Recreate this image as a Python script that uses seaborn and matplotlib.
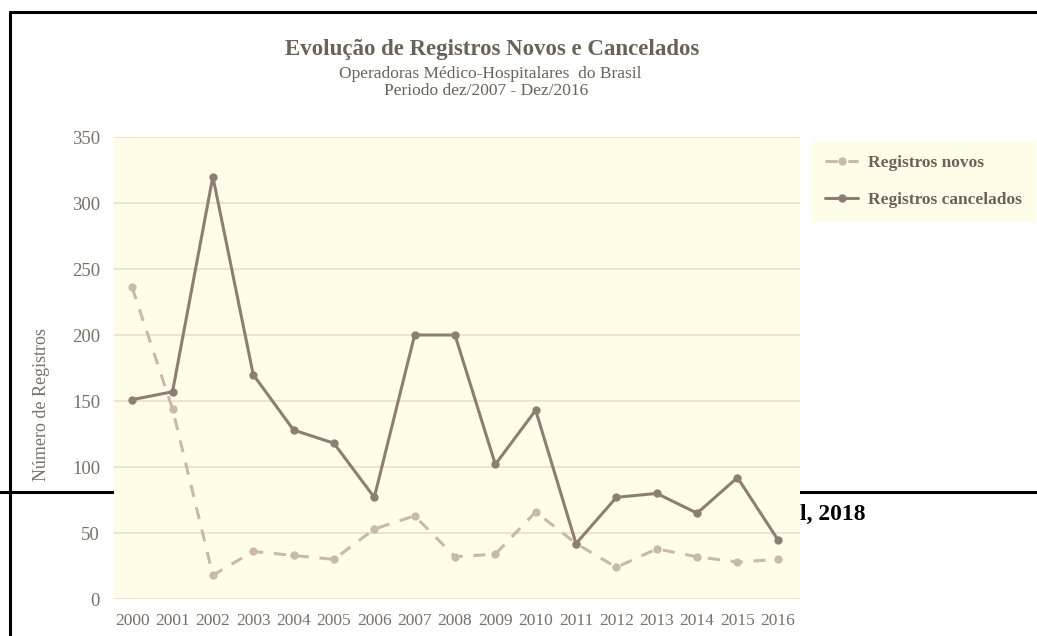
import numpy as np
import pandas as pd
import seaborn as sns
import matplotlib.pyplot as plt
from matplotlib.lines import Line2D

# dados
anos = list(range(2000, 2017))
novos = [236, 144, 18, 36, 33, 30, 53, 63, 32, 34, 66, 42, 24, 38, 32, 28, 30]
cancelados = [151, 157, 320, 170, 128, 118, 77, 200, 200, 102, 143, 42, 77, 80, 65, 92, 45]
yticks = [0, 50, 100, 150, 200, 250, 300, 350]

df = pd.DataFrame({'ano': anos, 'novos': novos, 'cancelados': cancelados})

sns.set_theme(style='white')
plt.rcParams['font.family'] = ['Liberation Serif', 'DejaVu Serif']

bg = '#FFFDE8'
grid_c = '#EADFCB'
c_novos = '#C9B9A8'
c_canc = '#8C7F72'
txt = '#6B6257'
tick_c = '#7A7067'

fig = plt.figure(figsize=(10.37, 6.36), dpi=100)
W, H = 1037, 636

# linhas da pagina (documento ao fundo)
fig.add_artist(Line2D([10 / W, 1], [1 - 12 / H, 1 - 12 / H], color='black', lw=2.2, zorder=0))
fig.add_artist(Line2D([10 / W, 10 / W], [0, 1 - 12 / H], color='black', lw=2.2, zorder=0))
fig.add_artist(Line2D([0, 1], [1 - 492 / H, 1 - 492 / H], color='black', lw=2.2, zorder=0))
fig.text(800 / W, 1 - 514 / H, 'l, 2018', fontsize=17, color='black', fontweight='bold',
         va='center', ha='left', zorder=1)

ax = fig.add_axes([114 / W, 1 - 599 / H, (800 - 114) / W, (599 - 137) / H])
ax.set_facecolor(bg)
ax.set_zorder(2)

sns.lineplot(data=df, x='ano', y='novos', ax=ax, color=c_novos, lw=2.2, marker='o', markersize=6,
             markeredgewidth=0, label='Registros novos', zorder=3)
ax.lines[-1].set_linestyle((0, (4, 3.5)))
sns.lineplot(data=df, x='ano', y='cancelados', ax=ax, color=c_canc, lw=2.2, marker='o', markersize=6,
             markeredgewidth=0, label='Registros cancelados', zorder=4)

ax.set_xlim(1999.55, 2016.55)
ax.set_ylim(0, 350)
ax.set_xticks(anos)
ax.set_xticklabels([str(a) for a in anos])
ax.set_yticks(yticks)
ax.tick_params(axis='both', length=0, colors=tick_c)
ax.tick_params(axis='x', pad=10, labelsize=12.5)
ax.tick_params(axis='y', pad=10, labelsize=13.5)
ax.grid(axis='y', color=grid_c, lw=1.2)
ax.set_axisbelow(True)
for s in ax.spines.values():
    s.set_visible(False)

ax.set_xlabel('')
ax.set_ylabel('Número de Registros', fontsize=13, color=tick_c)
ax.yaxis.set_label_coords(-0.093, 0.42)

# titulo
fig.text(492 / W, 1 - 50 / H, 'Evolução de Registros Novos e Cancelados', ha='center', va='center',
         fontsize=16.5, fontweight='bold', color=txt)
fig.text(490 / W, 1 - 74 / H, 'Operadoras Médico-Hospitalares  do Brasil', ha='center', va='center',
         fontsize=12.5, color=txt)
fig.text(486 / W, 1 - 91 / H, 'Periodo dez/2007 - Dez/2016', ha='center', va='center',
         fontsize=12.5, color=txt)

# legenda
leg = ax.legend(loc='upper left', bbox_to_anchor=(812 / W, 1 - 142 / H), bbox_transform=fig.transFigure,
                frameon=True, facecolor=bg, edgecolor=bg, fancybox=False, handlelength=1.9,
                handletextpad=0.6, labelspacing=1.2, borderpad=0.75, borderaxespad=0,
                prop={'size': 12.5, 'weight': 'bold'})
leg.get_frame().set_alpha(1)
for t in leg.get_texts():
    t.set_color(txt)

fig.savefig('out.png', dpi=100)
